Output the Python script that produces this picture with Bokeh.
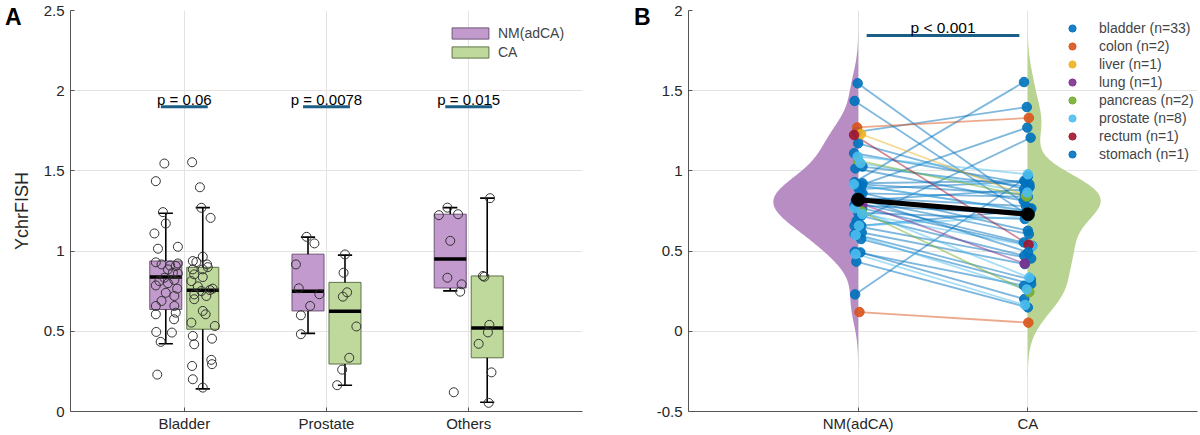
import numpy as np
from bokeh.plotting import figure
from bokeh.models import Range1d, FixedTicker, NumeralTickFormatter, Legend, LegendItem, LinearAxis
from bokeh.layouts import row
from bokeh.embed import file_html
from bokeh.resources import INLINE
from bokeh.core.properties import value

FONT = "Liberation Sans"

# ---------------- data ----------------
groups = ["Bladder", "Prostate", "Others"]
conditions = ["NM(adCA)", "CA"]
p_values_a = ["p = 0.06", "p = 0.0078", "p = 0.015"]
p_value_b = "p < 0.001"
panel_letters = ["A", "B"]

organ_names = ["bladder", "colon", "liver", "lung", "pancreas", "prostate", "rectum", "stomach"]

organ = (["bladder"] * 33 + ["prostate"] * 8 +
         ["colon", "colon", "liver", "lung", "pancreas", "pancreas", "rectum", "stomach"])

nm = [1.546, 1.436, 1.243, 1.172, 1.11, 1.027, 1.015, 0.93, 0.923, 0.917, 0.91, 0.907, 0.886,
      0.865, 0.86, 0.834, 0.82, 0.813, 0.80, 0.786, 0.766, 0.74, 0.72, 0.689, 0.658, 0.658,
      0.616, 0.606, 0.575, 0.496, 0.492, 0.434, 0.23,
      1.089, 1.048, 0.917, 0.768, 0.731, 0.658, 0.60, 0.482,
      1.271, 0.12, 1.23, 0.793, 1.064, 0.747, 1.224, 0.834]
nm_jit = [-0.01, -0.07, -0.02, 0.0, -0.08, 0.085, -0.055, -0.07, 0.085, -0.03, 0.03, 0.07, 0.015,
          0.05, 0.085, -0.01, 0.06, -0.045, 0.015, -0.07, 0.08, 0.0, 0.06, -0.03, -0.07, 0.06,
          0.07, -0.07, 0.058, -0.067, 0.043, -0.036, -0.06,
          -0.01, 0.045, -0.085, -0.065, 0.08, 0.015, -0.05, -0.05,
          -0.02, 0.025, 0.055, 0.08, 0.0, 0.07, -0.08, -0.02]
ca = [0.766, 0.72, 1.398, 0.886, 0.917, 0.90, 0.813, 1.554, 0.938, 0.855, 1.27, 0.751, 0.932,
      0.627, 0.838, 0.78, 0.606, 0.886, 0.554, 0.73, 0.533, 0.70, 0.471, 1.207, 0.454, 0.757,
      0.419, 0.322, 0.295, 0.284, 0.201, 0.149, 0.965,
      0.979, 0.865, 0.743, 0.335, 0.53, 0.716, 0.261, 0.164,
      1.33, 0.054, 0.845, 0.422, 0.84, 0.244, 0.54, 0.493]
ca_jit = [0.07, 0.025, -0.02, -0.07, 0.03, 0.035, -0.08, -0.075, -0.07, -0.06, -0.01, -0.01, -0.045,
          0.0, 0.0, -0.035, 0.02, 0.0, -0.08, -0.06, 0.085, -0.06, -0.07, 0.055, 0.065, 0.05,
          -0.06, 0.06, 0.065, -0.075, -0.07, 0.0, 0.0,
          0.0, -0.01, 0.015, 0.03, 0.08, -0.015, -0.02, -0.055,
          0.02, 0.01, -0.03, -0.06, -0.02, 0.03, 0.015, 0.005]

# box-plot statistics (Bladder, Prostate, Others)
nm_q1 = [0.636, 0.627, 0.770]
nm_med = [0.838, 0.749, 0.950]
nm_q3 = [0.938, 0.981, 1.230]
nm_lo = [0.422, 0.487, 0.752]
nm_hi = [1.236, 1.087, 1.271]
ca_q1 = [0.513, 0.296, 0.335]
ca_med = [0.756, 0.625, 0.520]
ca_q3 = [0.899, 0.805, 0.845]
ca_lo = [0.141, 0.164, 0.058]
ca_hi = [1.271, 0.975, 1.330]

# ---------------- styles ----------------
PURPLE_BOX, PURPLE_EDGE = "#c29acd", "#6f5577"
GREEN_BOX, GREEN_EDGE = "#bfd99c", "#5f7347"
PURPLE_VIO, GREEN_VIO = "#b78dc4", "#b9d392"
PLINE = "#1b5e86"
ORGAN_COLORS = {"bladder": "#0072BD", "colon": "#D95319", "liver": "#EDB120", "lung": "#7E2F8E",
                "pancreas": "#77AC30", "prostate": "#4DBEEE", "rectum": "#A2142F",
                "stomach": "#0072BD"}
TICK_FS = "15px"

nm_a = np.array(nm)
ca_a = np.array(ca)
nmj = np.array(nm_jit)
caj = np.array(ca_jit)
grp_idx = np.array([1 if o == "bladder" else (2 if o == "prostate" else 3) for o in organ], dtype=float)


def style(p, xticks, xlabels, yticks):
    p.outline_line_color = None
    p.xaxis.ticker = FixedTicker(ticks=xticks)
    p.xaxis.major_label_overrides = {t: l for t, l in zip(xticks, xlabels)}
    p.yaxis.ticker = FixedTicker(ticks=yticks)
    p.yaxis.formatter = NumeralTickFormatter(format="0.[0]")
    for ax in (p.xaxis[0], p.yaxis[0]):
        ax.axis_line_color = "#555555"
        ax.major_tick_line_color = "#555555"
        ax.major_tick_in = 4
        ax.major_tick_out = 0
        ax.minor_tick_line_color = None
        ax.major_label_text_font = FONT
        ax.major_label_text_font_size = TICK_FS
        ax.major_label_text_color = "#262626"
    p.yaxis.major_label_standoff = 6
    p.xaxis.major_label_standoff = 3
    p.xgrid.ticker = FixedTicker(ticks=xticks)
    p.ygrid.ticker = FixedTicker(ticks=yticks)
    p.grid.grid_line_color = "#e3e3e3"
    p.grid.grid_line_width = 1


def letter_axis(letter, y_at, standoff, label=None, label_standoff=0):
    ax = LinearAxis(ticker=FixedTicker(ticks=[y_at]), major_label_overrides={y_at: letter},
                    axis_line_color=None, major_tick_line_color=None,
                    minor_tick_line_color=None, major_label_text_font=FONT,
                    major_label_text_font_size="23px", major_label_text_font_style="bold",
                    major_label_text_color="black", major_label_standoff=standoff)
    if label:
        ax.axis_label = label
        ax.axis_label_text_font = FONT
        ax.axis_label_text_font_size = "18px"
        ax.axis_label_text_font_style = "normal"
        ax.axis_label_text_color = "#262626"
        ax.axis_label_standoff = label_standoff
    return ax


H = 434
# ---------------- panel A ----------------
pA = figure(width=604, height=H, x_range=Range1d(0.2, 3.8), y_range=Range1d(0, 2.5),
            output_backend="svg", toolbar_location=None,
            min_border_left=70, min_border_right=22, min_border_top=10, min_border_bottom=23)
style(pA, [1, 2, 3], groups, [0, 0.5, 1, 1.5, 2, 2.5])
pA.add_layout(letter_axis(panel_letters[0], 2.46, 13, "YchrFISH", -30), "left")

gx = np.array([1.0, 2.0, 3.0])
hw = 0.1125
box_renderers = []
for off, q1, med, q3, lo, hi, fc, lc in [
        (-0.13, nm_q1, nm_med, nm_q3, nm_lo, nm_hi, PURPLE_BOX, PURPLE_EDGE),
        (0.13, ca_q1, ca_med, ca_q3, ca_lo, ca_hi, GREEN_BOX, GREEN_EDGE)]:
    xs = gx + off
    r = pA.quad(left=xs - hw, right=xs + hw, bottom=q1, top=q3, fill_color=fc, line_color=lc,
                line_width=1)
    box_renderers.append(r)
    pA.segment(x0=xs, y0=q3, x1=xs, y1=hi, line_color="black", line_width=1.6)
    pA.segment(x0=xs, y0=q1, x1=xs, y1=lo, line_color="black", line_width=1.6)
    pA.segment(x0=xs - 0.05, y0=hi, x1=xs + 0.05, y1=hi, line_color="black", line_width=1.6)
    pA.segment(x0=xs - 0.05, y0=lo, x1=xs + 0.05, y1=lo, line_color="black", line_width=1.6)
    pA.segment(x0=xs - hw, y0=med, x1=xs + hw, y1=med, line_color="black", line_width=3.5)

pA.scatter(x=grp_idx - 0.13 + nmj, y=nm_a, marker="circle", size=9, fill_color=None,
           line_color="#333333", line_width=1)
pA.scatter(x=grp_idx + 0.13 + caj, y=ca_a, marker="circle", size=9, fill_color=None,
           line_color="#333333", line_width=1)

pA.segment(x0=gx - 0.165, y0=[1.9] * 3, x1=gx + 0.165, y1=[1.9] * 3, line_color=PLINE, line_width=3)
pA.text(x=gx, y=[1.945] * 3, text=p_values_a, text_font=value(FONT), text_font_size="15px",
        text_align="center", text_baseline="alphabetic", text_color="black")

legA = Legend(items=[LegendItem(label=conditions[0], renderers=[box_renderers[0]]),
                     LegendItem(label=conditions[1], renderers=[box_renderers[1]])],
              location=(377, 350), label_text_font=FONT, label_text_font_size="14px",
              glyph_width=46, glyph_height=14, label_height=18, label_standoff=5,
              padding=0, margin=0, spacing=1, border_line_color=None, background_fill_alpha=0)
pA.add_layout(legA)

# ---------------- panel B ----------------
pB = figure(width=595, height=H, x_range=Range1d(0, 3.0), y_range=Range1d(-0.5, 2),
            output_backend="svg", toolbar_location=None,
            min_border_left=84, min_border_right=2, min_border_top=10, min_border_bottom=23)
style(pB, [1, 2], conditions, [-0.5, 0, 0.5, 1, 1.5, 2])
pB.add_layout(letter_axis(panel_letters[1], 1.96, -3), "left")

BW = 0.115
ygrid = np.linspace(-0.5, 2.0, 501)


def kde(vals):
    v = np.asarray(vals)[:, None]
    return np.exp(-0.5 * ((ygrid[None, :] - v) / BW) ** 2).sum(axis=0)


d_nm = kde(nm_a)
d_ca = kde(ca_a)
scale = 0.5 / d_nm.max()
pB.harea(x1=1 - d_nm * scale, x2=np.ones_like(ygrid), y=ygrid, fill_color=PURPLE_VIO)
pB.harea(x1=np.full_like(ygrid, 2.0), x2=2 + d_ca * scale, y=ygrid, fill_color=GREEN_VIO)

nm_x = 1 + 0.3 * nmj
ca_x = 2 + 0.3 * caj
cols = [ORGAN_COLORS[o] for o in organ]
pB.segment(x0=nm_x, y0=nm_a, x1=ca_x, y1=ca_a, line_color=cols, line_alpha=0.5, line_width=1.8)

itemsB = []
for name in organ_names:
    idx = [i for i, o in enumerate(organ) if o == name]
    xs = list(nm_x[idx]) + list(ca_x[idx])
    ys = list(nm_a[idx]) + list(ca_a[idx])
    r = pB.scatter(x=xs, y=ys, marker="circle", size=9.5, fill_color=ORGAN_COLORS[name],
                   line_color=ORGAN_COLORS[name], fill_alpha=0.9, line_alpha=0.9)
    itemsB.append(LegendItem(label=f"{name} (n={len(idx)})", renderers=[r]))

m_nm = float(np.median(nm_a))
m_ca = float(np.median(ca_a))
pB.line(x=[1, 2], y=[m_nm, m_ca], line_color="black", line_width=5)
pB.scatter(x=[1, 2], y=[m_nm, m_ca], marker="circle", size=13, color="black")

pB.segment(x0=[1.05], y0=[1.844], x1=[1.95], y1=[1.844], line_color=PLINE, line_width=3)
pB.text(x=[1.5], y=[1.896], text=[p_value_b], text_font=value(FONT), text_font_size="15.5px",
        text_align="center", text_baseline="alphabetic", text_color="black")

legB = Legend(items=itemsB, location=(374, 248), label_text_font=FONT,
              label_text_font_size="14px", glyph_width=20, glyph_height=18, label_height=18,
              label_standoff=17, padding=0, margin=0, spacing=0, border_line_color=None,
              background_fill_alpha=0)
pB.add_layout(legB)

layout = row(pA, pB)
open("out.html", "w").write(file_html(layout, INLINE))
